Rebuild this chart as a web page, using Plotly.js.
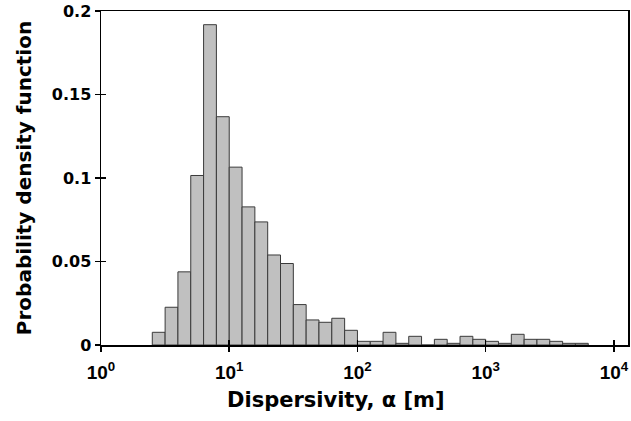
<!DOCTYPE html>
<html>
<head>
<meta charset="utf-8">
<script src="https://cdn.plot.ly/plotly-3.0.1.min.js"></script>
<style>
  html, body { margin: 0; padding: 0; background: #fff; }
  #chart { width: 631px; height: 421px; }
</style>
</head>
<body>
<div id="chart"></div>
<script>
// Bin left edges as log10(alpha [m]); each bin is 0.1 decade wide
const binLeftLog = [0.4, 0.5, 0.6, 0.7, 0.8, 0.9, 1.0, 1.1, 1.2, 1.3, 1.4, 1.5, 1.6, 1.7, 1.8, 1.9,
                    2.0, 2.1, 2.2, 2.3, 2.4, 2.5, 2.6, 2.7, 2.8, 2.9, 3.0, 3.1, 3.2, 3.3, 3.4, 3.5, 3.6, 3.7];
const binWidthLog = 0.1;
// Probability density per bin
const density = [0.0076, 0.0226, 0.0438, 0.1015, 0.1918, 0.1367, 0.1065, 0.0827, 0.0737, 0.0539,
                 0.0488, 0.0242, 0.0150, 0.0136, 0.0160, 0.0088,
                 0.0022, 0.0022, 0.0076, 0.0010, 0.0052, 0.0, 0.0034, 0.0010, 0.0052, 0.0034,
                 0.0022, 0.0010, 0.0064, 0.0034, 0.0034, 0.0022, 0.0010, 0.0010];
const xTickVals = [1, 10, 100, 1000, 10000];
const xTickExp = ['0', '1', '2', '3', '4'];
const yTickVals = [0, 0.05, 0.1, 0.15, 0.2];
const yTickText = ['0', '0.05', '0.1', '0.15', '0.2'];
const xTitle = 'Dispersivity, α [m]';
const yTitle = 'Probability density function';

const xTickText = xTickExp.map(e =>
  '<span style="font-weight:bold;font-size:19px">10<sup>' + e + '</sup></span>');

// bar spans from the bin's left edge to its right edge (in data units)
const leftEdges = binLeftLog.map(l => Math.pow(10, l));
const widths = binLeftLog.map(l => Math.pow(10, l + binWidthLog) - Math.pow(10, l));

const FONT = 'DejaVu Sans, Arial, sans-serif';
const XTICKFONT = 'Liberation Sans, Arial, sans-serif';

const trace = {
  type: 'bar',
  x: leftEdges,
  y: density,
  width: widths,
  offset: 0,
  marker: { color: '#c0c0c0', line: { color: '#3a3a3a', width: 1 } },
  hoverinfo: 'x+y'
};

const xRange = [0, 4.11];
const yRange = [0, 0.2];

const layout = {
  width: 631, height: 421,
  margin: { l: 101, r: 3, t: 11, b: 76 },
  paper_bgcolor: '#fff', plot_bgcolor: '#fff',
  showlegend: false,
  bargap: 0,
  font: { family: FONT, color: '#000' },
  xaxis: {
    type: 'log', range: xRange,
    tickvals: xTickVals, ticktext: xTickText,
    ticks: 'outside', ticklen: 5, tickwidth: 1.5, tickcolor: '#000',
    ticklabelstandoff: 5, ticklabeloverflow: 'allow',
    showline: true, linecolor: '#000', linewidth: 1.5, mirror: true,
    showgrid: false, zeroline: false,
    tickfont: { family: XTICKFONT, size: 19, color: '#000', weight: 'bold' }
  },
  yaxis: {
    range: yRange,
    tickvals: yTickVals, ticktext: yTickText,
    ticks: 'outside', ticklen: 5, tickwidth: 1.5, tickcolor: '#000',
    showline: true, linecolor: '#000', linewidth: 1.5, mirror: true,
    showgrid: false, zeroline: false,
    tickfont: { family: FONT, size: 16, color: '#000', weight: 'bold' },
    title: { text: yTitle, font: { family: FONT, size: 20, color: '#000', weight: 'bold' }, standoff: 15 }
  },
  xaxis2: {
    type: 'log', range: xRange, overlaying: 'x', anchor: 'y2', side: 'bottom',
    tickvals: xTickVals, showticklabels: false,
    ticks: 'inside', ticklen: 5, tickwidth: 1.5, tickcolor: '#000',
    showline: false, showgrid: false, zeroline: false
  },
  yaxis2: {
    range: yRange, overlaying: 'y', anchor: 'x2', side: 'left',
    tickvals: yTickVals, showticklabels: false,
    ticks: 'inside', ticklen: 5, tickwidth: 1.5, tickcolor: '#000',
    showline: false, showgrid: false, zeroline: false
  },
  annotations: [{
    text: xTitle, xref: 'paper', yref: 'paper', x: 0.446, y: -0.165,
    xanchor: 'center', yanchor: 'middle', showarrow: false,
    font: { family: FONT, size: 21, color: '#000', weight: 'bold' }
  }]
};

const tickTrace = { type: 'scatter', x: [], y: [], xaxis: 'x2', yaxis: 'y2', hoverinfo: 'skip', showlegend: false };

Plotly.newPlot('chart', [trace, tickTrace], layout, { displayModeBar: false, staticPlot: true });
</script>
</body>
</html>
